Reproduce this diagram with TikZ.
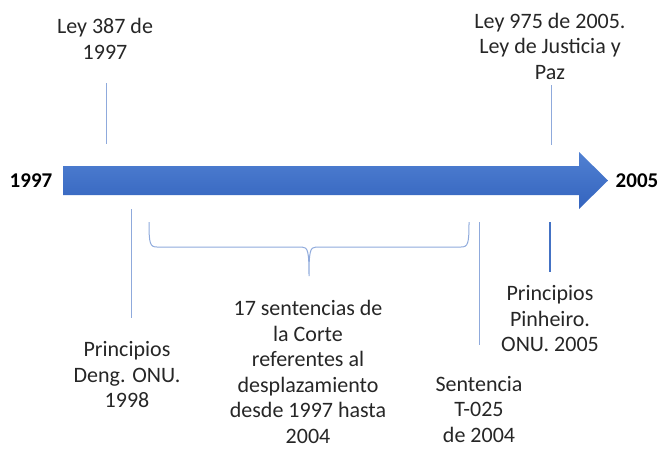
\documentclass[tikz,border=0pt]{standalone}
\usepackage{fontspec}
\setmainfont{Carlito}
\usepackage{tikz}
\usetikzlibrary{positioning}
\definecolor{arrtop}{RGB}{80,128,210}
\definecolor{arrbot}{RGB}{52,100,190}
\definecolor{thinblue}{RGB}{143,170,220}
\definecolor{darkblue}{RGB}{68,114,196}

\begin{document}
\begin{tikzpicture}[x=1pt, y=-1pt,
  evt/.style={align=center, inner sep=0pt, font=\fontsize{22}{25.5}\selectfont, text=black!85},
  yearlbl/.style={inner sep=0pt, font=\fontsize{21}{25}\selectfont\bfseries},
  tickline/.style={draw=thinblue, line width=1pt},
  >=stealth
]
\useasboundingbox (0,0) rectangle (660,450);

% the timeline arrow
\shade[top color=arrtop, bottom color=arrbot]
  (63,166) -- (579,166) -- (579,152) -- (608,180.5) -- (579,209) -- (579,195) -- (63,195) -- cycle;
\node[yearlbl] (y97) at (31,181) {1997};
\node[yearlbl] (y05) at (637,181) {2005};

% events above
\node[evt] (ley387) at (105,39) {Ley 387 de\\1997};
\node[evt] (ley975) at (550,46) {Ley 975 de 2005.\\Ley de Justicia y\\Paz};

% events below
\node[evt] (deng) at (127,375) {Principios\\Deng. ONU.\\1998};
\node[evt] (sentencias) at (308,372) {17 sentencias de\\la Corte\\referentes al\\desplazamiento\\desde 1997 hasta\\2004};
\node[evt] (t025) at (479,409) {Sentencia\\T-025\\de 2004};
\node[evt] (pinheiro) at (550,319) {Principios\\Pinheiro.\\ONU. 2005};

% ticks
\coordinate (a1) at (106,83);  \coordinate (a2) at (106,144);
\coordinate (b1) at (551,85);  \coordinate (b2) at (551,145);
\coordinate (c1) at (131,209); \coordinate (c2) at (131,318);
\coordinate (d1) at (479,222); \coordinate (d2) at (479,345);
\coordinate (e1) at (550,222); \coordinate (e2) at (550,272);
\draw[tickline] (a1) -- (a2);
\draw[tickline] (b1) -- (b2);
\draw[tickline] (c1) -- (c2);
\draw[tickline] (d1) -- (d2);
\draw[draw=darkblue, line width=2pt] (e1) -- (e2);

% brace over the court rulings
\coordinate (br1) at (149,222);
\coordinate (br2) at (469,222);
\coordinate (brtip) at (309,276);
\draw[tickline] (br1) .. controls (149,244) and (150,247) .. (157,247) -- (302,247)
  .. controls (308,247) and (309,252) .. (brtip)
  .. controls (309,252) and (310,247) .. (316,247) -- (461,247)
  .. controls (468,247) and (469,244) .. (br2);

\end{tikzpicture}
\end{document}
